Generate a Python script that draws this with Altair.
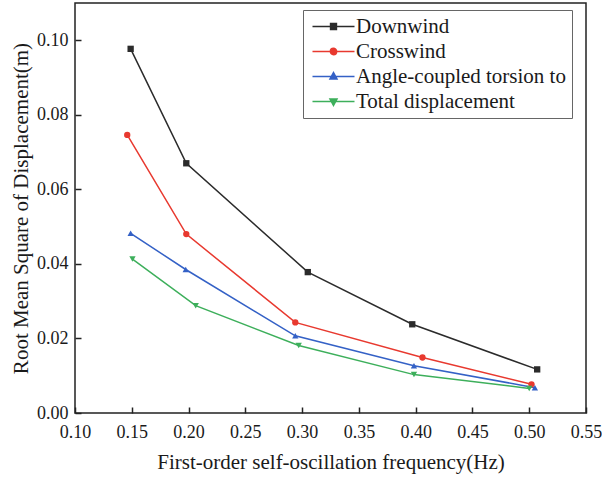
import altair as alt
import pandas as pd

series = ["Downwind", "Crosswind", "Angle-coupled torsion to", "Total displacement"]
colors = ["#2b2b2b", "#e8392f", "#3461c6", "#3daf5b"]
shapes = ["square", "circle", "triangle-up", "triangle-down"]

freq_downwind = [0.149, 0.198, 0.305, 0.397, 0.507]
rms_downwind = [0.0977, 0.0670, 0.0378, 0.0238, 0.0117]
freq_crosswind = [0.146, 0.198, 0.294, 0.406, 0.502]
rms_crosswind = [0.0746, 0.0480, 0.0243, 0.0149, 0.0077]
freq_torsion = [0.149, 0.1975, 0.294, 0.3985, 0.505]
rms_torsion = [0.0482, 0.0385, 0.0207, 0.0127, 0.0068]
freq_total = [0.1506, 0.2063, 0.297, 0.3985, 0.500]
rms_total = [0.0413, 0.0288, 0.0181, 0.0103, 0.0066]

x_ticks = [0.10, 0.15, 0.20, 0.25, 0.30, 0.35, 0.40, 0.45, 0.50, 0.55]
y_ticks = [0.00, 0.02, 0.04, 0.06, 0.08, 0.10]

rows = []
for name, xs, ys in [
    (series[0], freq_downwind, rms_downwind),
    (series[1], freq_crosswind, rms_crosswind),
    (series[2], freq_torsion, rms_torsion),
    (series[3], freq_total, rms_total),
]:
    for i, (a, b) in enumerate(zip(xs, ys)):
        rows.append({"series": name, "freq": a, "rms": b, "order": i})
df = pd.DataFrame(rows)

FONT = "Times New Roman"
TXT = "#1a1a1a"

# legend symbols: a short line with the series marker on it (custom paths)
legend_paths = {
    series[0]: "M-1,0H5M1.58,-0.42H2.42V0.42H1.58Z",
    series[1]: "M-1,0H5M1.55,0A0.45,0.45 0 1,0 2.45,0A0.45,0.45 0 1,0 1.55,0Z",
    series[2]: "M-1,0H5M2,-0.55L2.5,0.35H1.5Z",
    series[3]: "M-1,0H5M2,0.55L2.5,-0.35H1.5Z",
}
sig = "'" + legend_paths[series[3]] + "'"
for s in reversed(series[:3]):
    sig = f"datum.value === '{s}' ? '{legend_paths[s]}' : ({sig})"

xscale = alt.Scale(domain=[0.10, 0.55], nice=False, zero=False)
yscale = alt.Scale(domain=[0.0, 0.11], nice=False)
cscale = alt.Scale(domain=series, range=colors)

base = alt.Chart(df)

lines = base.mark_line(strokeWidth=1.5).encode(
    x=alt.X(
        "freq:Q",
        scale=xscale,
        axis=alt.Axis(
            values=x_ticks, format=".2f", title="First-order self-oscillation frequency(Hz)",
            ticks=False, tickSize=0, domain=False, grid=False, labelPadding=10,
            labelFlush=False,
            labelFont=FONT, labelFontSize=18, labelColor=TXT,
            titleFont=FONT, titleFontSize=21, titleFontWeight="normal", titleColor=TXT,
            titlePadding=10,
        ),
    ),
    y=alt.Y(
        "rms:Q",
        scale=yscale,
        axis=alt.Axis(
            values=y_ticks, format=".2f", title="Root Mean Square of Displacement(m)",
            ticks=False, tickSize=0, domain=False, grid=False, labelPadding=7,
            labelFlush=False,
            labelFont=FONT, labelFontSize=18, labelColor=TXT,
            titleFont=FONT, titleFontSize=21, titleFontWeight="normal", titleColor=TXT,
            titlePadding=5,
        ),
    ),
    color=alt.Color(
        "series:N",
        scale=cscale,
        sort=series,
        legend=alt.Legend(
            title=None,
            orient="none",
            legendX=228,
            legendY=7,
            padding=6,
            strokeColor="#666666",
            fillColor="white",
            labelFont=FONT,
            labelFontSize=21,
            labelColor=TXT,
            labelLimit=400,
            labelOffset=26,
            rowPadding=3,
            symbolSize=196,
            symbolStrokeWidth=1.5,
            symbolType=alt.ExprRef(sig),
            symbolFillColor=alt.ExprRef("scale('color', datum.value)"),
            symbolOpacity=1,
        ),
    ),
    order="order:Q",
    detail="series:N",
)

point_layers = []
for name, col, shp in zip(series, colors, shapes):
    point_layers.append(
        base.transform_filter(alt.datum.series == name)
        .mark_point(filled=True, size=40, opacity=1, shape=shp, color=col)
        .encode(
            x=alt.X("freq:Q", scale=xscale, axis=None),
            y=alt.Y("rms:Q", scale=yscale, axis=None),
        )
    )

ticks_layer = base.mark_point(opacity=0).encode(
    x=alt.X(
        "freq:Q",
        scale=xscale,
        axis=alt.Axis(
            orient="top", offset=-410, values=x_ticks, labels=False, domain=False,
            grid=False, title=None, ticks=True, tickSize=6, tickWidth=1.5, tickColor="#222222",
        ),
    ),
    y=alt.Y(
        "rms:Q",
        scale=yscale,
        axis=alt.Axis(
            orient="right", offset=-511, values=y_ticks, labels=False, domain=False,
            grid=False, title=None, ticks=True, tickSize=6, tickWidth=1.5, tickColor="#222222",
        ),
    ),
)

chart = (
    alt.layer(lines, *point_layers, ticks_layer)
    .resolve_axis(x="independent", y="independent")
    .properties(
        width=511,
        height=410,
        autosize=alt.AutoSizeParams(type="none"),
        padding={"left": 75, "top": 3, "right": 16, "bottom": 64},
        background="white",
    )
    .configure(font=FONT, style={"guide-label": {"font": FONT}, "guide-title": {"font": FONT}})
    .configure_axis(labelFont=FONT, titleFont=FONT)
    .configure_legend(labelFont=FONT, labelLimit=400)
    .configure_view(stroke="#222222", strokeWidth=1.5)
)

chart.save("out.html", embed_options={"renderer": "svg", "actions": False})
